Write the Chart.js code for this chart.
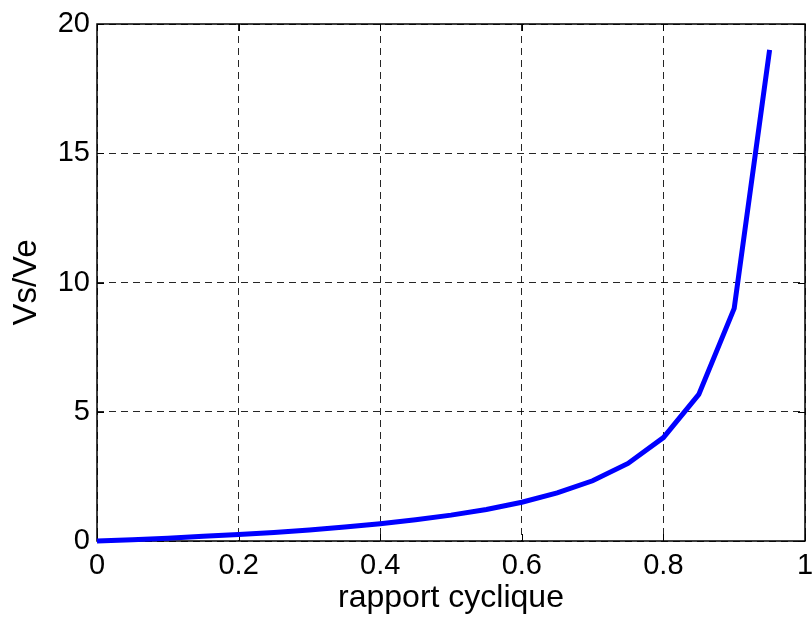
<!DOCTYPE html>
<html>
<head>
<meta charset="utf-8">
<script src="https://cdn.jsdelivr.net/npm/chart.js@4/dist/chart.umd.min.js"></script>
<style>
  html, body { margin: 0; padding: 0; background: #fff; }
  canvas { display: block; }
</style>
</head>
<body>
<canvas id="c" width="812" height="617"></canvas>
<script>
// Duty cycle (x) and output/input voltage ratio (y)
const dutyCycle = [0, 0.05, 0.10, 0.15, 0.20, 0.25, 0.30, 0.35, 0.40, 0.45,
                   0.50, 0.55, 0.60, 0.65, 0.70, 0.75, 0.80, 0.85, 0.90, 0.95];
const gain = [0, 0.05, 0.11, 0.18, 0.25, 0.33, 0.43, 0.54, 0.67, 0.82,
              1.00, 1.22, 1.50, 1.86, 2.33, 3.00, 4.00, 5.67, 9.00, 19.00];
const xTicks = [0, 0.2, 0.4, 0.6, 0.8, 1];
const yTicks = [0, 5, 10, 15, 20];
const xTitle = 'rapport cyclique';
const yTitle = 'Vs/Ve';

const FONT = '"Liberation Sans", Arial, Helvetica, sans-serif';

// Axes box with inward tick marks
const boxPlugin = {
  id: 'box',
  beforeDatasetsDraw(chart) {
    const { ctx, chartArea: a, scales } = chart;
    const len = 7;
    ctx.save();
    ctx.strokeStyle = '#000';
    ctx.lineWidth = 1.5;
    ctx.setLineDash([]);
    ctx.strokeRect(a.left, a.top, a.right - a.left, a.bottom - a.top);
    ctx.lineWidth = 1;
    ctx.beginPath();
    xTicks.forEach(v => {
      const px = Math.round(scales.x.getPixelForValue(v)) + 0.5;
      ctx.moveTo(px, a.bottom); ctx.lineTo(px, a.bottom - len);
      ctx.moveTo(px, a.top); ctx.lineTo(px, a.top + len);
    });
    yTicks.forEach(v => {
      const py = Math.round(scales.y.getPixelForValue(v)) + 0.5;
      ctx.moveTo(a.left, py); ctx.lineTo(a.left + len, py);
      ctx.moveTo(a.right, py); ctx.lineTo(a.right - len, py);
    });
    ctx.stroke();
    ctx.restore();
  }
};

const gridOpts = {
  drawTicks: false,
  color: 'rgba(0,0,0,0.85)',
  lineWidth: 1
};

new Chart(document.getElementById('c'), {
  type: 'line',
  data: {
    datasets: [{
      data: dutyCycle.map((d, i) => ({ x: d, y: gain[i] })),
      borderColor: '#0000ff',
      borderWidth: 5,
      pointRadius: 0,
      tension: 0,
      fill: false,
      clip: false,
      borderCapStyle: 'butt',
      borderJoinStyle: 'miter'
    }]
  },
  options: {
    responsive: false,
    animation: false,
    devicePixelRatio: 1,
    layout: { padding: { top: 24, right: 7, left: 0, bottom: 0 } },
    plugins: { legend: { display: false }, tooltip: { enabled: false } },
    scales: {
      x: {
        type: 'linear',
        min: 0, max: 1,
        afterBuildTicks: s => { s.ticks = xTicks.map(v => ({ value: v })); },
        afterFit: s => { s.height = 76; s.paddingLeft = 0; s.paddingRight = 0; },
        grid: gridOpts,
        border: { display: false, dash: [7, 5] },
        ticks: {
          padding: 8,
          color: '#000',
          font: { family: FONT, size: 29 },
          maxRotation: 0,
          callback: v => String(v)
        },
        title: {
          display: true, text: xTitle, color: '#000',
          font: { family: FONT, size: 32 },
          padding: { top: 0, bottom: 0 }
        }
      },
      y: {
        type: 'linear',
        min: 0, max: 20,
        afterBuildTicks: s => { s.ticks = yTicks.map(v => ({ value: v })); },
        afterFit: s => { s.width = 97; s.paddingTop = 0; s.paddingBottom = 0; },
        grid: gridOpts,
        border: { display: false, dash: [7, 5] },
        ticks: {
          padding: 7,
          color: '#000',
          font: { family: FONT, size: 29 },
          callback: v => String(v)
        },
        title: {
          display: true, text: yTitle, color: '#000',
          font: { family: FONT, size: 33 },
          padding: { top: 7, bottom: 0 }
        }
      }
    }
  },
  plugins: [boxPlugin]
});
</script>
</body>
</html>
